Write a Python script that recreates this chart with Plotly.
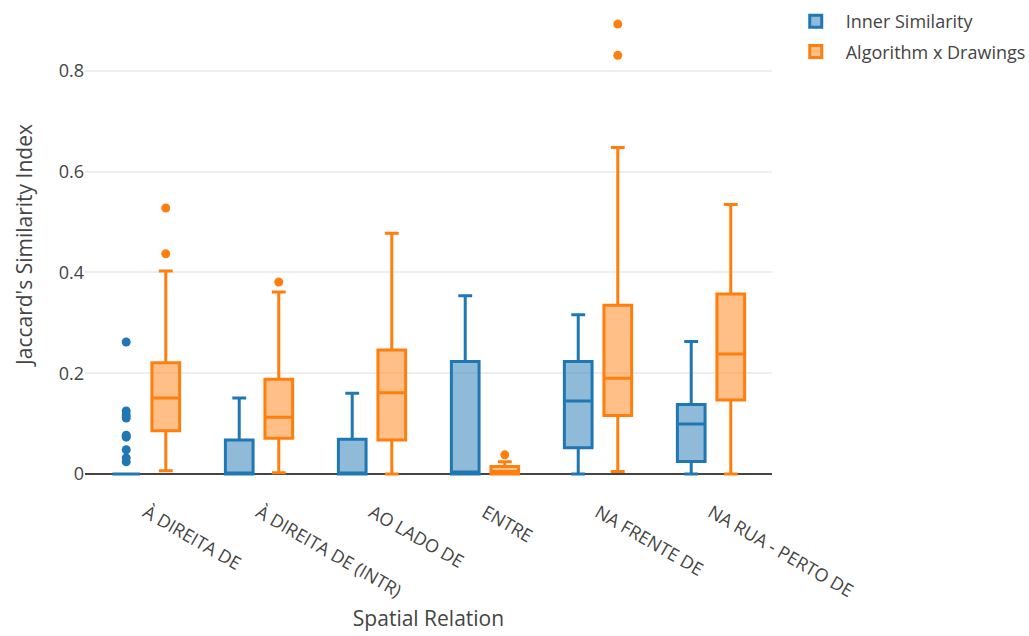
import plotly.graph_objects as go

categories = ["À DIREITA DE", "À DIREITA DE (INTR)", "AO LADO DE", "ENTRE",
              "NA FRENTE DE", "NA RUA - PERTO DE"]

# Inner Similarity (precomputed box statistics)
inner_q1 = [0.0, 0.0, 0.0, 0.0, 0.052, 0.0245]
inner_median = [0.0, 0.002, 0.002, 0.004, 0.145, 0.099]
inner_q3 = [0.0, 0.0675, 0.069, 0.223, 0.223, 0.138]
inner_low = [0.0, 0.0, 0.0, 0.0, 0.0, 0.0]
inner_high = [0.0, 0.151, 0.160, 0.354, 0.316, 0.263]
inner_outlier_cat = ["À DIREITA DE"] * 9
inner_outlier_val = [0.262, 0.125, 0.117, 0.111, 0.077, 0.073, 0.048, 0.032, 0.024]

# Algorithm x Drawings
algo_q1 = [0.086, 0.071, 0.0675, 0.0, 0.116, 0.147]
algo_median = [0.151, 0.1125, 0.161, 0.005, 0.190, 0.238]
algo_q3 = [0.221, 0.188, 0.246, 0.0146, 0.335, 0.357]
algo_low = [0.0066, 0.0026, 0.0, 0.0, 0.005, 0.0]
algo_high = [0.403, 0.361, 0.478, 0.024, 0.648, 0.535]
algo_outlier_cat = ["À DIREITA DE", "À DIREITA DE", "À DIREITA DE (INTR)", "ENTRE",
                    "NA FRENTE DE", "NA FRENTE DE"]
algo_outlier_val = [0.528, 0.437, 0.381, 0.038, 0.893, 0.831]

BLUE = "#1f77b4"
ORANGE = "#ff7f0e"
S = 1.5  # overall scale of the reference rendering

fig = go.Figure()

def add_series(name, color, fill, q1, med, q3, lo, hi, ocat, oval, group):
    fig.add_trace(go.Box(
        name=name, x=categories, q1=q1, median=med, q3=q3,
        lowerfence=lo, upperfence=hi,
        line=dict(color=color, width=2 * S), fillcolor=fill,
        offsetgroup=group, alignmentgroup="all", boxpoints=False,
        legendgroup=group,
    ))
    fig.add_trace(go.Box(
        name=name, x=ocat, y=oval, boxpoints="all", jitter=0, pointpos=0,
        line=dict(color="rgba(0,0,0,0)", width=0), fillcolor="rgba(0,0,0,0)",
        marker=dict(color=color, size=6 * S),
        offsetgroup=group, alignmentgroup="all", showlegend=False, hoveron="points",
        legendgroup=group,
    ))

add_series("Inner Similarity", BLUE, "rgba(31,119,180,0.5)",
           inner_q1, inner_median, inner_q3, inner_low, inner_high,
           inner_outlier_cat, inner_outlier_val, "inner")
add_series("Algorithm x Drawings", ORANGE, "rgba(255,127,14,0.5)",
           algo_q1, algo_median, algo_q3, algo_low, algo_high,
           algo_outlier_cat, algo_outlier_val, "algo")

fig.update_layout(
    template="none",
    width=1029, height=636,
    boxmode="group",
    paper_bgcolor="white", plot_bgcolor="white",
    font=dict(family="Open Sans", size=12 * S, color="#444"),
    margin=dict(l=85, r=257, t=10, b=157, autoexpand=False),
    showlegend=True,
    legend=dict(x=1.02, y=1.015, xanchor="left", yanchor="top",
                font=dict(size=12 * S), bgcolor="rgba(0,0,0,0)", itemwidth=50,
                traceorder="grouped", tracegroupgap=4),
    xaxis=dict(
        type="category", categoryorder="array", categoryarray=categories,
        tickangle=30, showgrid=False, zeroline=False, showline=False,
        ticks="", automargin=False, ticklabelstandoff=19,
        title=dict(text="Spatial Relation", font=dict(size=14 * S)),
    ),
    yaxis=dict(
        range=[-0.01, 0.921], dtick=0.2, tick0=0,
        showgrid=True, gridcolor="#eee", gridwidth=1 * S,
        zeroline=True, zerolinecolor="#444", zerolinewidth=1 * S,
        showline=False, ticks="", automargin=True,
        title=dict(text="Jaccard's Similarity Index", font=dict(size=14 * S), standoff=20),
    ),
)

fig.write_html("out.html", config={"displayModeBar": False},
               post_script="document.body.style.margin='0';")
